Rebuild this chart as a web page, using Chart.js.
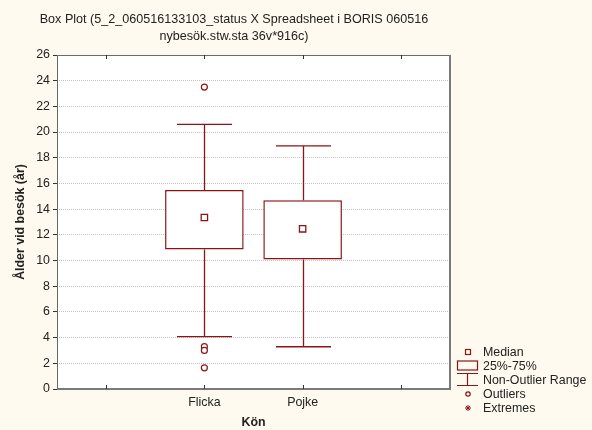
<!DOCTYPE html>
<html lang="sv">
  <head>
    <meta charset="UTF-8" />
    <title>Box Plot</title>
    <script src="https://cdn.jsdelivr.net/npm/chart.js"></script>
    <style>
      html, body { margin: 0; padding: 0; background: #fffaef; }
      .wrap { width: 592px; height: 430px; }
    </style>
  </head>
  <body>
    <div class="wrap"><canvas id="myChart" width="592" height="430"></canvas></div>
    <script>
      "use strict";
      // data
      const categories = ["", "Flicka", "Pojke", ""];
      const q1 = [null, 10.85, 10.08, null];
      const q3 = [null, 15.5, 14.7, null];
      const median = [null, 13.35, 12.47, null];
      const whiskerLow = [null, 4.07, 3.29, null];
      const whiskerHigh = [null, 20.6, 18.93, null];
      const outlierCats = ["Flicka", "Flicka", "Flicka", "Flicka"];
      const outlierVals = [23.5, 3.3, 3.0, 1.65];
      const yTicks = [0, 2, 4, 6, 8, 10, 12, 14, 16, 18, 20, 22, 24, 26];

      const titleLines = [
        "Box Plot (5_2_060516133103_status X Spreadsheet i BORIS 060516",
        "nybesök.stw.sta 36v*916c)",
      ];
      const legendItems = ["Median", "25%-75%", "Non-Outlier Range", "Outliers", "Extremes"];

      const RED = "#8c1414";
      const FONT = "'Liberation Sans', Arial, sans-serif";
      const FS = 12.4;

      const boxPlugin = {
        id: "boxExtras",
        beforeDraw(chart) {
          const { ctx, chartArea: a } = chart;
          ctx.save();
          ctx.fillStyle = "#fffaef";
          ctx.fillRect(0, 0, chart.width, chart.height);
          ctx.fillStyle = "#ffffff";
          ctx.fillRect(a.left, a.top, a.right - a.left, a.bottom - a.top);
          ctx.restore();
        },
        afterDatasetsDraw(chart) {
          const { ctx } = chart;
          const x = chart.scales.x;
          const y = chart.scales.y;
          const catW = x.width / categories.length;
          ctx.save();
          // whiskers
          ctx.strokeStyle = RED;
          ctx.lineWidth = 1.3;
          categories.forEach((c, i) => {
            if (whiskerLow[i] == null) return;
            const cx = Math.round(x.getPixelForValue(i)) + 0.5;
            const half = catW * 0.28;
            ctx.beginPath();
            ctx.moveTo(cx, y.getPixelForValue(q3[i]));
            ctx.lineTo(cx, y.getPixelForValue(whiskerHigh[i]));
            ctx.moveTo(cx - half, y.getPixelForValue(whiskerHigh[i]));
            ctx.lineTo(cx + half, y.getPixelForValue(whiskerHigh[i]));
            ctx.moveTo(cx, y.getPixelForValue(q1[i]));
            ctx.lineTo(cx, y.getPixelForValue(whiskerLow[i]));
            ctx.moveTo(cx - half, y.getPixelForValue(whiskerLow[i]));
            ctx.lineTo(cx + half, y.getPixelForValue(whiskerLow[i]));
            ctx.stroke();
          });
          ctx.restore();
        },
        afterDraw(chart) {
          const { ctx, chartArea: a } = chart;
          const x = chart.scales.x;
          ctx.save();
          // frame
          ctx.strokeStyle = "#6a6a6a";
          ctx.lineWidth = 1;
          ctx.beginPath();
          ctx.moveTo(a.left + 0.5, a.bottom);
          ctx.lineTo(a.left + 0.5, a.top + 0.5);
          ctx.lineTo(a.right, a.top + 0.5);
          ctx.stroke();
          ctx.lineWidth = 2;
          ctx.strokeStyle = "#7a7a7a";
          ctx.beginPath();
          ctx.moveTo(a.left, a.bottom);
          ctx.lineTo(a.right, a.bottom);
          ctx.lineTo(a.right, a.top);
          ctx.stroke();
          // inward category ticks top and bottom
          ctx.strokeStyle = "#333";
          ctx.lineWidth = 1;
          categories.forEach((c, i) => {
            const px = Math.round(x.getPixelForValue(i)) + 0.5;
            ctx.beginPath();
            ctx.moveTo(px, a.top);
            ctx.lineTo(px, a.top + 4);
            ctx.moveTo(px, a.bottom);
            ctx.lineTo(px, a.bottom - 4);
            ctx.stroke();
          });
          // title
          ctx.fillStyle = "#222";
          ctx.font = "12.6px " + FONT;
          ctx.textAlign = "center";
          ctx.textBaseline = "middle";
          ctx.fillText(titleLines[0], 234, 20);
          ctx.fillText(titleLines[1], 234, 37);
          // legend
          const lx = 468;
          const tx = 483;
          const rows = [352, 366, 380, 394, 408];
          ctx.font = FS + "px " + FONT;
          ctx.textAlign = "left";
          ctx.fillStyle = "#222";
          legendItems.forEach((t, i) => ctx.fillText(t, tx, rows[i] + 0.5));
          ctx.strokeStyle = RED;
          ctx.lineWidth = 1.2;
          ctx.strokeRect(lx - 2.5, rows[0] - 2.5, 5, 5);
          ctx.strokeRect(457.5, rows[1] - 5, 20, 9);
          ctx.beginPath();
          ctx.moveTo(457, rows[2] - 6.5);
          ctx.lineTo(478, rows[2] - 6.5);
          ctx.moveTo(467.5, rows[2] - 6.5);
          ctx.lineTo(467.5, rows[2] + 5.5);
          ctx.moveTo(457, rows[2] + 5.5);
          ctx.lineTo(478, rows[2] + 5.5);
          ctx.stroke();
          ctx.beginPath();
          ctx.arc(lx, rows[3], 2.2, 0, Math.PI * 2);
          ctx.stroke();
          ctx.lineWidth = 1;
          ctx.beginPath();
          for (let k = 0; k < 4; k++) {
            const ang = (k * Math.PI) / 4;
            ctx.moveTo(lx - 3 * Math.cos(ang), rows[4] - 3 * Math.sin(ang));
            ctx.lineTo(lx + 3 * Math.cos(ang), rows[4] + 3 * Math.sin(ang));
          }
          ctx.stroke();
          ctx.restore();
        },
      };

      const ctx = document.getElementById("myChart").getContext("2d");
      new Chart(ctx, {
        data: {
          labels: categories,
          datasets: [
            {
              type: "bar",
              label: "25%-75%",
              data: categories.map((c, i) => (q1[i] == null ? null : [q1[i], q3[i]])),
              backgroundColor: "#ffffff",
              borderColor: RED,
              borderWidth: 1.5,
              borderSkipped: false,
              barPercentage: 0.8,
              categoryPercentage: 1,
              order: 3,
            },
            {
              type: "line",
              label: "Median",
              data: median,
              showLine: false,
              pointStyle: "rect",
              pointRadius: 4.5,
              pointBackgroundColor: "#ffffff",
              pointBorderColor: RED,
              pointBorderWidth: 1.3,
              order: 1,
            },
            {
              type: "line",
              label: "Outliers",
              data: outlierCats.map((c, i) => ({ x: c, y: outlierVals[i] })),
              showLine: false,
              pointStyle: "circle",
              pointRadius: 3,
              pointBackgroundColor: "#ffffff",
              pointBorderColor: RED,
              pointBorderWidth: 1.2,
              order: 2,
            },
          ],
        },
        options: {
          responsive: false,
          animation: false,
          events: [],
          layout: { padding: { left: 13, right: 142, top: 55, bottom: 0 } },
          scales: {
            x: {
              type: "category",
              offset: true,
              grid: { display: false, drawTicks: false },
              border: { display: false },
              ticks: {
                padding: 6,
                color: "#222",
                font: { family: FONT, size: FS },
                autoSkip: false,
                maxRotation: 0,
              },
              title: {
                display: true,
                text: "Kön",
                color: "#222",
                font: { family: FONT, size: FS, weight: "bold" },
                padding: { top: 4, bottom: 0 },
              },
              afterFit(scale) {
                scale.height = 41;
              },
            },
            y: {
              min: 0,
              max: 26,
              afterBuildTicks(scale) {
                scale.ticks = yTicks.map((v) => ({ value: v }));
              },
              grid: {
                color: "#c4c4c4",
                lineWidth: 1,
                drawTicks: true,
                tickLength: 4,
                tickColor: "#333",
                tickBorderDash: [],
              },
              border: { display: false, dash: [1, 1] },
              ticks: {
                padding: 3,
                color: "#222",
                font: { family: FONT, size: FS },
              },
              title: {
                display: true,
                text: "Ålder vid besök (år)",
                color: "#222",
                font: { family: FONT, size: FS, weight: "bold" },
                padding: 0,
              },
              afterFit(scale) {
                scale.width = 44;
              },
            },
          },
          plugins: {
            legend: { display: false },
            tooltip: { enabled: false },
            title: { display: false },
          },
        },
        plugins: [boxPlugin],
      });
    </script>
  </body>
</html>
